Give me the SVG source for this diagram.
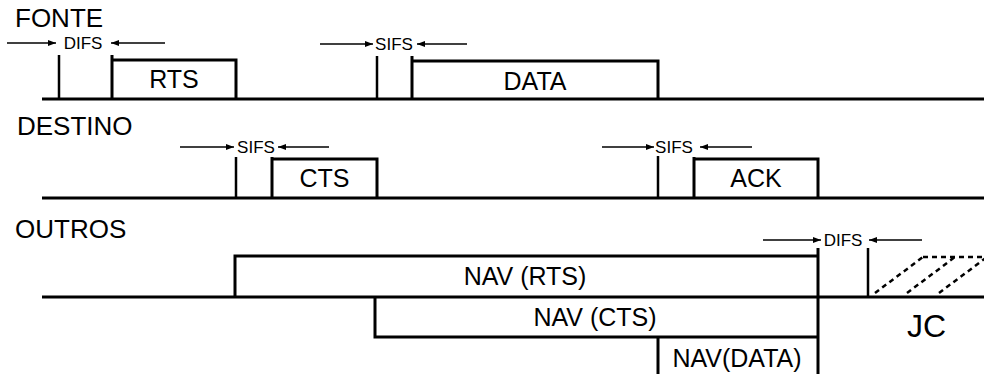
<svg xmlns="http://www.w3.org/2000/svg" width="984" height="374" viewBox="0 0 984 374">
<defs>
<marker id="ah" markerUnits="userSpaceOnUse" markerWidth="9" markerHeight="7" refX="8" refY="3" orient="auto">
<path d="M0,0 L8,3 L0,6 z" fill="#000"/>
</marker>
</defs>
<style>
text{font-family:"Liberation Sans",Arial,sans-serif;fill:#000}
.lbl{font-size:26px}
.frm{font-size:25px;text-anchor:middle}
.gap{font-size:17px;text-anchor:middle}
.axis{stroke:#000;stroke-width:3;fill:none}
.box{stroke:#000;stroke-width:3;fill:none}
.tick{stroke:#000;stroke-width:2.5;fill:none}
.arr{stroke:#000;stroke-width:1.3;fill:none;marker-end:url(#ah)}
.dash{stroke:#000;stroke-width:2.5;fill:none;stroke-dasharray:5 4}
</style>
<rect width="984" height="374" fill="#fff"/>

<g id="fonte">
<text class="lbl" x="15" y="27">FONTE</text>
<path class="axis" d="M42,99 H984"/>
</g>
<g id="destino">
<text class="lbl" x="17" y="135">DESTINO</text>
<path class="axis" d="M42,198 H984"/>
</g>
<g id="outros">
<text class="lbl" x="15" y="238">OUTROS</text>
<path class="axis" d="M42,297 H984"/>
</g>

<g id="difs1">
<path class="tick" d="M59,55 V99"/>
<text class="gap" x="83" y="49">DIFS</text>
</g>
<g id="rts">
<path class="box" d="M112,99 V55 M112,60 H236 V99"/>
<text class="frm" x="174" y="88">RTS</text>
</g>
<g id="sifs1">
<path class="tick" d="M377,56 V99"/>
<text class="gap" x="394" y="50">SIFS</text>
</g>
<g id="data">
<path class="box" d="M412,99 V56 M412,61 H658 V99"/>
<text class="frm" x="535" y="90">DATA</text>
</g>
<g id="sifs2">
<path class="tick" d="M236,157 V198"/>
<text class="gap" x="256" y="153">SIFS</text>
</g>
<g id="cts">
<path class="box" d="M272,198 V157 M272,159 H377 V198"/>
<text class="frm" x="324.5" y="187">CTS</text>
</g>
<g id="sifs3">
<path class="tick" d="M658,156 V198"/>
<text class="gap" x="674" y="153">SIFS</text>
</g>
<g id="ack">
<path class="box" d="M694,198 V157 M694,159 H818 V198"/>
<text class="frm" x="756" y="187">ACK</text>
</g>
<g id="nav-rts">
<path class="box" d="M235,297 V256 H818"/>
<path class="box" d="M818,248 V374"/>
<text class="frm" x="525" y="285">NAV (RTS)</text>
</g>
<g id="nav-cts">
<path class="box" d="M375,297 V337 H818"/>
<text class="frm" x="595" y="326">NAV (CTS)</text>
</g>
<g id="nav-data">
<path class="box" d="M658,337 V374"/>
<text class="frm" x="737" y="367">NAV(DATA)</text>
</g>
<g id="difs2">
<path class="tick" d="M868,248 V297"/>
<text class="gap" x="843" y="246">DIFS</text>
</g>
<g id="jc">
<path class="dash" d="M923,257 H984 M875,293 L923,257 M907,293 L955,257 M939,293 L987,257"/>
<text x="907" y="337" style="font-size:32px">JC</text>
</g>

<g id="connectors">
<line class="arr" x1="7" y1="43" x2="56" y2="43"/>
<line class="arr" x1="165" y1="43" x2="111" y2="43"/>
<line class="arr" x1="320" y1="44" x2="373" y2="44"/>
<line class="arr" x1="467" y1="44" x2="417" y2="44"/>
<line class="arr" x1="180" y1="147" x2="234" y2="147"/>
<line class="arr" x1="329" y1="147" x2="278" y2="147"/>
<line class="arr" x1="602" y1="147" x2="654" y2="147"/>
<line class="arr" x1="752" y1="147" x2="700" y2="147"/>
<line class="arr" x1="763" y1="240" x2="821" y2="240"/>
<line class="arr" x1="922" y1="240" x2="869" y2="240"/>
</g>
</svg>
